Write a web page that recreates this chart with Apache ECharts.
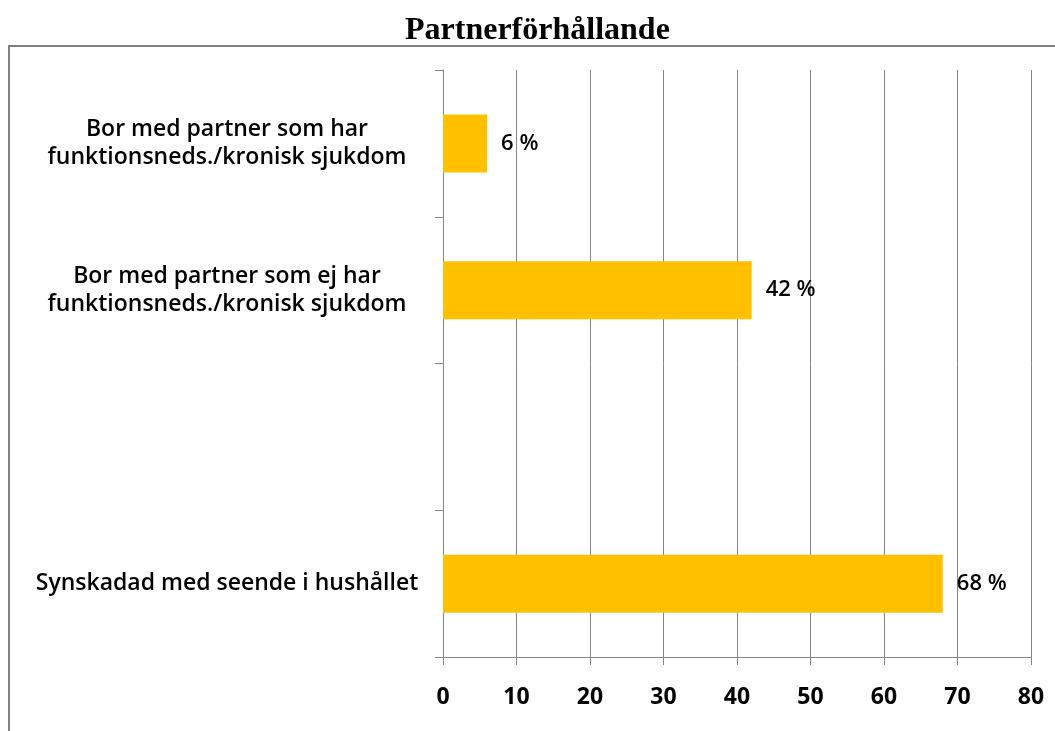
<!DOCTYPE html>
<html>
<head>
<meta charset="utf-8">
<script src="https://cdn.jsdelivr.net/npm/echarts@6/dist/echarts.min.js"></script>
<style>
  html, body { margin: 0; padding: 0; background: #fff; }
  #chart { width: 1055px; height: 731px; }
</style>
</head>
<body>
<div id="chart"></div>
<script>
var categories = [
    'Bor med partner som har\nfunktionsneds./kronisk sjukdom',
    'Bor med partner som ej har\nfunktionsneds./kronisk sjukdom',
    '',
    'Synskadad med seende i hushållet'
];
var values = [6, 42, null, 68];
var xTicks = [0, 10, 20, 30, 40, 50, 60, 70, 80];

var chart = echarts.init(document.getElementById('chart'));
chart.setOption({
    animation: false,
    title: {
        text: 'Partnerförhållande',
        left: 400,
        top: 10,
        textStyle: { fontFamily: 'Liberation Serif', fontWeight: 'bold', fontSize: 32, color: '#000' }
    },
    graphic: [{
        type: 'rect',
        shape: { x: 9, y: 46, width: 1200, height: 800 },
        style: { fill: 'none', stroke: '#808080', lineWidth: 2 }
    }],
    grid: { left: 443, right: 24, top: 70, bottom: 74 },
    xAxis: {
        type: 'value',
        min: xTicks[0],
        max: xTicks[xTicks.length - 1],
        interval: 10,
        axisLine: { show: true, lineStyle: { color: '#868686', width: 1 } },
        axisTick: { show: true, length: 8, lineStyle: { color: '#868686' } },
        splitLine: { show: true, lineStyle: { color: '#868686', width: 1 } },
        axisLabel: {
            margin: 29,
            fontFamily: 'Open Sans',
            fontWeight: 'bold',
            fontSize: 23,
            color: '#000'
        }
    },
    yAxis: {
        type: 'category',
        inverse: true,
        data: categories,
        axisLine: { show: true, lineStyle: { color: '#868686', width: 1 } },
        axisTick: { show: true, length: 8, lineStyle: { color: '#868686' } },
        axisLabel: {
            align: 'center',
            margin: 216,
            fontFamily: 'Open Sans',
            fontWeight: 600,
            fontSize: 23,
            lineHeight: 28,
            color: '#000'
        }
    },
    series: [{
        type: 'bar',
        data: values,
        barWidth: 58,
        itemStyle: { color: '#FFC000' },
        label: {
            show: true,
            position: 'right',
            distance: 14,
            formatter: '{c} %',
            fontFamily: 'Open Sans',
            fontWeight: 600,
            fontSize: 22,
            color: '#000'
        }
    }]
});
</script>
</body>
</html>
